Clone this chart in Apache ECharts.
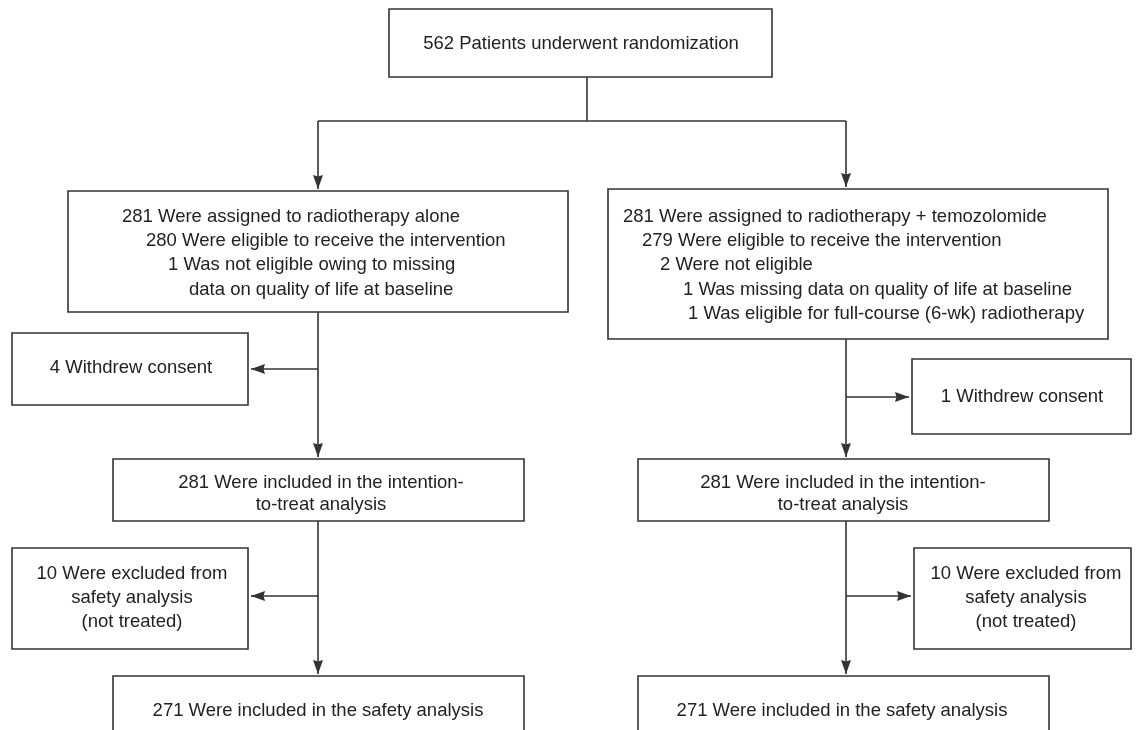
<!DOCTYPE html>
<html>
<head>
<meta charset="utf-8">
<title>Flow</title>
<script src="https://cdn.jsdelivr.net/npm/echarts@6/dist/echarts.min.js"></script>
<style>
  html, body { margin: 0; padding: 0; background: #fff; }
  #chart { width: 1141px; height: 730px; }
</style>
</head>
<body>
<div id="chart"></div>
<script>
// box texts
var topText = ['562 Patients underwent randomization'];
var rtAloneText = [
    '281 Were assigned to radiotherapy alone',
    '280 Were eligible to receive the intervention',
    '1 Was not eligible owing to missing',
    'data on quality of life at baseline'
];
var rtTmzText = [
    '281 Were assigned to radiotherapy + temozolomide',
    '279 Were eligible to receive the intervention',
    '2 Were not eligible',
    '1 Was missing data on quality of life at baseline',
    '1 Was eligible for full-course (6-wk) radiotherapy'
];
var withdrewText = ['4 Withdrew consent', '1 Withdrew consent'];
var ittText = ['281 Were included in the intention-', 'to-treat analysis'];
var excludedText = ['10 Were excluded from', 'safety analysis', '(not treated)'];
var safetyText = ['271 Were included in the safety analysis', '271 Were included in the safety analysis'];

// layout (page units)
var boxes = [
    [389, 9, 772, 77],
    [68, 191, 568, 312],
    [608, 189, 1108, 339],
    [12, 333, 248, 405],
    [912, 359, 1131, 434],
    [113, 459, 524, 521],
    [638, 459, 1049, 521],
    [12, 548, 248, 649],
    [914, 548, 1131, 649],
    [113, 676, 524, 760],
    [638, 676, 1049, 760]
];
// [x0, y0, x1, y1, arrowHead]
var links = [
    [587, 77, 587, 121, 0],
    [318, 121, 846, 121, 0],
    [318, 121, 318, 189, 1],
    [846, 121, 846, 187, 1],
    [318, 312, 318, 457, 1],
    [318, 369, 251, 369, 1],
    [846, 339, 846, 457, 1],
    [846, 397, 909, 397, 1],
    [318, 521, 318, 674, 1],
    [318, 596, 251, 596, 1],
    [846, 521, 846, 674, 1],
    [846, 596, 911, 596, 1]
];

var labels = [];
function addLines(lines, xs, ys, align) {
    for (var i = 0; i < lines.length; i++) {
        labels.push({ value: [xs[i], ys[i]], text: lines[i], align: align });
    }
}
addLines(topText, [581], [44], 'center');
addLines(rtAloneText, [122, 146, 168, 189], [217, 241, 265, 290], 'left');
addLines(rtTmzText, [623, 642, 660, 683, 688], [217, 241, 265, 290, 314], 'left');
addLines(withdrewText, [131, 1022], [368, 397], 'center');
addLines(ittText, [321, 321], [483, 505], 'center');
addLines(ittText, [843, 843], [483, 505], 'center');
addLines(excludedText, [132, 132, 132], [574, 598, 622], 'center');
addLines(excludedText, [1026, 1026, 1026], [574, 598, 622], 'center');
addLines(safetyText, [318, 842], [711, 711], 'center');

var lineColor = '#333';
var chart = echarts.init(document.getElementById('chart'));
chart.setOption({
    animation: false,
    backgroundColor: '#fff',
    grid: { left: 0, right: 0, top: 0, bottom: 0 },
    xAxis: { type: 'value', min: 0, max: 1141, show: false },
    yAxis: { type: 'value', min: 0, max: 730, inverse: true, show: false },
    series: [{
        type: 'custom',
        name: 'links',
        encode: { x: [0, 2], y: [1, 3] },
        data: links,
        renderItem: function(params, api) {
            var a = api.coord([api.value(0), api.value(1)]);
            var b = api.coord([api.value(2), api.value(3)]);
            var kids = [{
                type: 'line',
                shape: { x1: a[0], y1: a[1], x2: b[0], y2: b[1] },
                style: { stroke: lineColor, lineWidth: 1.6 }
            }];
            if (api.value(4)) {
                var dx = b[0] - a[0], dy = b[1] - a[1];
                var len = Math.sqrt(dx * dx + dy * dy);
                var ux = dx / len, uy = dy / len;
                var hl = 14, hw = 5;
                var bx = b[0] - ux * hl, by = b[1] - uy * hl;
                kids.push({
                    type: 'polygon',
                    shape: { points: [[b[0], b[1]], [bx - uy * hw, by + ux * hw], [bx + ux * 1.5, by + uy * 1.5], [bx + uy * hw, by - ux * hw]] },
                    style: { fill: lineColor }
                });
            }
            return { type: 'group', children: kids };
        },
        z: 1
    }, {
        type: 'custom',
        name: 'boxes',
        encode: { x: [0, 2], y: [1, 3] },
        data: boxes,
        renderItem: function(params, api) {
            var p0 = api.coord([api.value(0), api.value(1)]);
            var p1 = api.coord([api.value(2), api.value(3)]);
            return {
                type: 'rect',
                shape: { x: p0[0], y: p0[1], width: p1[0] - p0[0], height: p1[1] - p0[1] },
                style: { fill: '#fff', stroke: lineColor, lineWidth: 1.6 }
            };
        },
        z: 2
    }, {
        type: 'custom',
        name: 'labels',
        encode: { x: 0, y: 1 },
        data: labels,
        renderItem: function(params, api) {
            var p = api.coord([api.value(0), api.value(1)]);
            var item = labels[params.dataIndex];
            return {
                type: 'text',
                x: p[0],
                y: p[1],
                style: {
                    text: item.text,
                    fill: '#222',
                    font: '18.5px "Liberation Sans", Arial, Helvetica, sans-serif',
                    align: item.align,
                    verticalAlign: 'middle'
                },
                z2: 10
            };
        },
        z: 3
    }]
});
</script>
</body>
</html>
